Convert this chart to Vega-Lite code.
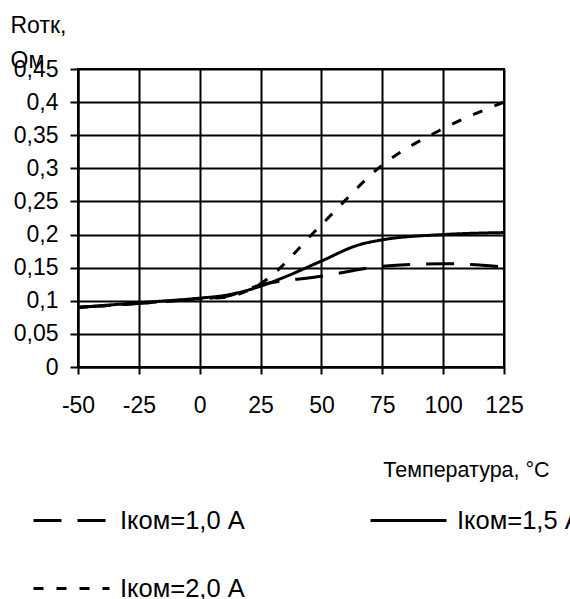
{
  "$schema": "https://vega.github.io/schema/vega-lite/v6.json",
  "autosize": "none",
  "width": 426,
  "height": 298,
  "padding": {"left": 78, "top": 69, "right": 66, "bottom": 232},
  "background": "white",
  "config": {
    "font": "Liberation Sans",
    "view": {"stroke": "black", "strokeWidth": 2}
  },
  "data": {
    "values": [
      {"t": -50, "r": 0.09, "s": "Iком=1,0 A"},
      {"t": -25, "r": 0.096, "s": "Iком=1,0 A"},
      {"t": 0, "r": 0.103, "s": "Iком=1,0 A"},
      {"t": 10, "r": 0.106, "s": "Iком=1,0 A"},
      {"t": 25, "r": 0.124, "s": "Iком=1,0 A"},
      {"t": 50, "r": 0.137, "s": "Iком=1,0 A"},
      {"t": 75, "r": 0.152, "s": "Iком=1,0 A"},
      {"t": 100, "r": 0.156, "s": "Iком=1,0 A"},
      {"t": 125, "r": 0.151, "s": "Iком=1,0 A"},
      {"t": -50, "r": 0.09, "s": "Iком=1,5 A"},
      {"t": -25, "r": 0.097, "s": "Iком=1,5 A"},
      {"t": 0, "r": 0.104, "s": "Iком=1,5 A"},
      {"t": 10, "r": 0.108, "s": "Iком=1,5 A"},
      {"t": 25, "r": 0.122, "s": "Iком=1,5 A"},
      {"t": 35, "r": 0.136, "s": "Iком=1,5 A"},
      {"t": 50, "r": 0.16, "s": "Iком=1,5 A"},
      {"t": 65, "r": 0.184, "s": "Iком=1,5 A"},
      {"t": 75, "r": 0.192, "s": "Iком=1,5 A"},
      {"t": 100, "r": 0.2, "s": "Iком=1,5 A"},
      {"t": 125, "r": 0.203, "s": "Iком=1,5 A"},
      {"t": -50, "r": 0.09, "s": "Iком=2,0 A"},
      {"t": -25, "r": 0.096, "s": "Iком=2,0 A"},
      {"t": 0, "r": 0.103, "s": "Iком=2,0 A"},
      {"t": 10, "r": 0.105, "s": "Iком=2,0 A"},
      {"t": 25, "r": 0.126, "s": "Iком=2,0 A"},
      {"t": 50, "r": 0.215, "s": "Iком=2,0 A"},
      {"t": 75, "r": 0.305, "s": "Iком=2,0 A"},
      {"t": 100, "r": 0.36, "s": "Iком=2,0 A"},
      {"t": 125, "r": 0.4, "s": "Iком=2,0 A"}
    ]
  },
  "mark": {"type": "line", "interpolate": "monotone", "strokeWidth": 3, "color": "black", "strokeCap": "butt"},
  "encoding": {
    "x": {
      "field": "t", "type": "quantitative",
      "scale": {"domain": [-50, 125], "nice": false, "zero": false},
      "axis": {
        "values": [-50, -25, 0, 25, 50, 75, 100, 125],
        "labelExpr": "'' + datum.value",
        "title": "Температура, °С",
        "titleX": 388, "titleY": 109, "titleAlign": "center", "titleBaseline": "alphabetic", "titleAnchor": null,
        "titleFont": "Liberation Sans", "titleFontSize": 21.5, "titleFontWeight": "normal", "titleColor": "black",
        "labelFont": "Liberation Sans", "labelFontSize": 23, "labelColor": "black", "labelPadding": 20,
        "labelFlush": false, "labelOverlap": false,
        "tickSize": 7, "tickColor": "black", "tickWidth": 2,
        "domainColor": "black", "domainWidth": 2,
        "grid": true, "gridColor": "black", "gridWidth": 2, "gridOpacity": 1
      }
    },
    "y": {
      "field": "r", "type": "quantitative",
      "scale": {"domain": [0, 0.45], "nice": false},
      "axis": {
        "values": [0, 0.05, 0.1, 0.15, 0.2, 0.25, 0.3, 0.35, 0.4, 0.45],
        "labelExpr": "replace('' + datum.value, '.', ',')",
        "title": ["Rотк,", "Ом"],
        "titleAngle": 0, "titleX": -68, "titleY": -37, "titleAlign": "left", "titleBaseline": "alphabetic",
        "titleLineHeight": 35, "titleAnchor": null,
        "titleFont": "Liberation Sans", "titleFontSize": 23, "titleFontWeight": "normal", "titleColor": "black",
        "labelFont": "Liberation Sans", "labelFontSize": 23, "labelColor": "black", "labelPadding": 12,
        "labelFlush": false, "labelOverlap": false,
        "tickSize": 8, "tickColor": "black", "tickWidth": 2,
        "domainColor": "black", "domainWidth": 2,
        "grid": true, "gridColor": "black", "gridWidth": 2, "gridOpacity": 1
      }
    },
    "strokeDash": {
      "field": "s", "type": "nominal",
      "scale": {"domain": ["Iком=1,0 A", "Iком=2,0 A", "Iком=1,5 A"], "range": [[28, 16], [10, 13], [1, 0]]},
      "legend": {
        "orient": "none", "legendX": -46, "legendY": 412,
        "title": null, "columns": 2, "columnPadding": 119, "rowPadding": 15, "padding": 0,
        "symbolType": "stroke", "symbolSize": 5776, "symbolStrokeWidth": 3, "symbolStrokeColor": "black",
        "labelFont": "Liberation Sans", "labelFontSize": 25.5, "labelColor": "black", "labelOffset": 9,
        "labelLimit": 400
      }
    }
  }
}
